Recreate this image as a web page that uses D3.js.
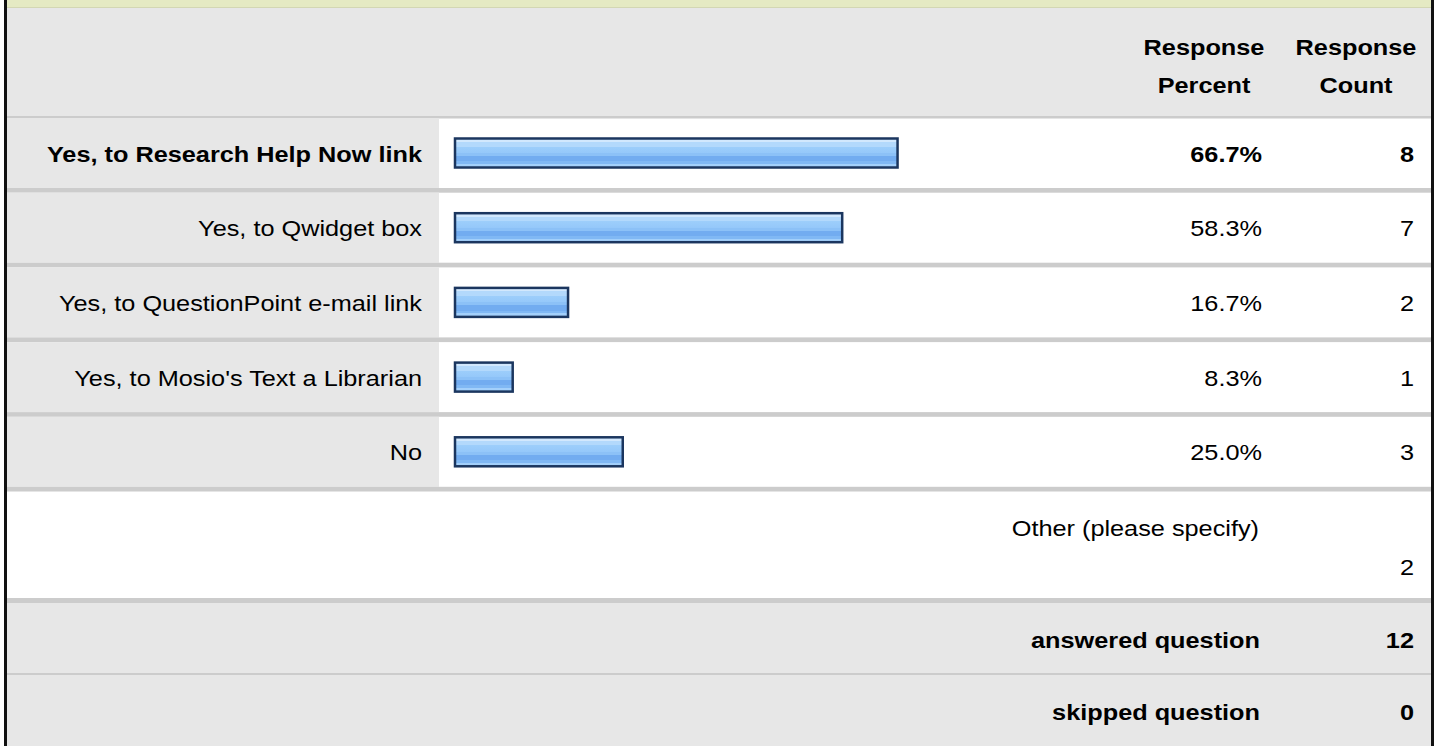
<!DOCTYPE html>
<html>
<head>
<meta charset="utf-8">
<script src="https://cdn.jsdelivr.net/npm/d3@7"></script>
<style>
  html, body { margin: 0; padding: 0; background: #fff; }
  svg { display: block; }
  text { font-family: "Liberation Sans", Arial, sans-serif; fill: #000; }
</style>
</head>
<body>
<svg id="chart" width="1440" height="746"></svg>
<script>
"use strict";

// answer choices and their results
const categories = [
	"Yes, to Research Help Now link",
	"Yes, to Qwidget box",
	"Yes, to QuestionPoint e-mail link",
	"Yes, to Mosio's Text a Librarian",
	"No"
];
const percents = [66.7, 58.3, 16.7, 8.3, 25.0];
const counts = [8, 7, 2, 1, 3];
const headers = [["Response", "Percent"], ["Response", "Count"]];
const otherLabel = "Other (please specify)";
const otherCount = 2;
const summaryLabels = ["answered question", "skipped question"];
const summaryValues = [12, 0];

const W = 1440, H = 746;
const left = 7, right = 1431;
const labelColEnd = 439;
const pctRight = 1262, cntRight = 1414;
const pctCenter = 1204, cntCenter = 1356;
const fontSize = 22, stretch = 1.15;
const gray = "#e7e7e7", rule = "#cccccc";

const svg = d3.select("#chart");

// vertical stripes of the bar
const defs = svg.append("defs");
const grad = defs.append("linearGradient")
	.attr("id", "barfill")
	.attr("x1", 0).attr("y1", 0).attr("x2", 0).attr("y2", 1);
const stops = [
	[0, "#d2e8fd"], [0.12, "#d2e8fd"], [0.12, "#b3d9fc"], [0.28, "#b3d9fc"],
	[0.28, "#9dcefb"], [0.5, "#95c8fa"], [0.5, "#8cc1f7"], [0.6, "#8cc1f7"],
	[0.6, "#72acf0"], [0.78, "#72acf0"], [0.78, "#80b8f4"], [0.88, "#80b8f4"],
	[0.88, "#a3d0fb"], [1, "#a3d0fb"]
];
grad.selectAll("stop").data(stops).enter().append("stop")
	.attr("offset", d=>d[0])
	.attr("stop-color", d=>d[1]);

// text helper: the picture's glyphs are a bit wider than tall
function label(g, x, y, str, anchor, bold) {
	return g.append("text")
		.attr("transform", `translate(${x},${y}) scale(${stretch},1)`)
		.attr("text-anchor", anchor)
		.style("font-size", fontSize + "px")
		.style("font-weight", bold ? "bold" : "normal")
		.text(str);
}

// frame
svg.append("rect").attr("x", left).attr("y", 0).attr("width", right - left).attr("height", 7).attr("fill", "#e5eac3");
svg.append("rect").attr("x", left).attr("y", 7).attr("width", right - left).attr("height", 1).attr("fill", "#d3d7b4");

// header row
svg.append("rect").attr("x", left).attr("y", 8).attr("width", right - left).attr("height", 108).attr("fill", gray);
svg.append("rect").attr("x", left).attr("y", 116).attr("width", right - left).attr("height", 2.5).attr("fill", rule);
const head = svg.append("g").classed("header", true);
[pctCenter, cntCenter].forEach((cx, i)=>{
	label(head, cx, 55, headers[i][0], "middle", true);
	label(head, cx, 93, headers[i][1], "middle", true);
});

// rows
const yscale = d3.scaleBand()
	.domain(categories)
	.range([118, 491.5]);
const step = yscale.step();
const cellH = step - 4.7;

const xscale = d3.scaleLinear()
	.domain([0, 100])
	.range([458, 458 + 659]);
const barX0 = 455, barH = 29;

const maxIdx = percents.indexOf(d3.max(percents));

const rows = svg.append("g").classed("rows", true)
	.selectAll(".row")
	.data(categories)
	.enter()
	.append("g")
	.classed("row", true)
	.attr("transform", d=>`translate(0, ${yscale(d)})`);

rows.append("rect")
	.attr("x", left).attr("y", 0)
	.attr("width", labelColEnd - left).attr("height", cellH)
	.attr("fill", gray);
rows.append("rect")
	.attr("x", left).attr("y", cellH)
	.attr("width", right - left).attr("height", step - cellH)
	.attr("fill", rule);

rows.append("rect")
	.classed("bar", true)
	.attr("x", barX0)
	.attr("y", cellH / 2 - barH / 2)
	.attr("width", (d, i)=>xscale(percents[i]) - barX0)
	.attr("height", barH)
	.attr("fill", "url(#barfill)")
	.attr("stroke", "#1b365f")
	.attr("stroke-width", 2.5);

rows.each(function(d, i) {
	let g = d3.select(this);
	let base = cellH / 2 + 8.5;
	let bold = i == maxIdx;
	label(g, 422, base, d, "end", bold);
	label(g, pctRight, base, percents[i].toFixed(1) + "%", "end", bold);
	label(g, cntRight, base, counts[i], "end", bold);
});

// other row
const otherTop = yscale.range()[1];
const other = svg.append("g").classed("other", true);
label(other, 1259, otherTop + 44, otherLabel, "end", false);
label(other, cntRight, otherTop + 83, otherCount, "end", false);
svg.append("rect").attr("x", left).attr("y", 598).attr("width", right - left).attr("height", 5).attr("fill", rule);

// summary rows
const sumScale = d3.scaleBand()
	.domain(summaryLabels)
	.range([603, 747]);
const sums = svg.append("g").classed("summary", true)
	.selectAll(".sum")
	.data(summaryLabels)
	.enter()
	.append("g")
	.attr("transform", d=>`translate(0, ${sumScale(d)})`);
sums.append("rect")
	.attr("x", left).attr("y", 0)
	.attr("width", right - left).attr("height", sumScale.bandwidth())
	.attr("fill", gray);
sums.filter((d, i)=>i == 0).append("rect")
	.attr("x", left).attr("y", sumScale.bandwidth() - 2)
	.attr("width", right - left).attr("height", 2)
	.attr("fill", rule);
sums.each(function(d, i) {
	let g = d3.select(this);
	let base = sumScale.bandwidth() / 2 + 8.5;
	label(g, 1260, base, d, "end", true);
	label(g, cntRight, base, summaryValues[i], "end", true);
});

// side borders
svg.append("rect").attr("x", 4).attr("y", 0).attr("width", 3).attr("height", H).attr("fill", "#111");
svg.append("rect").attr("x", right).attr("y", 0).attr("width", 3).attr("height", H).attr("fill", "#111");
</script>
</body>
</html>
